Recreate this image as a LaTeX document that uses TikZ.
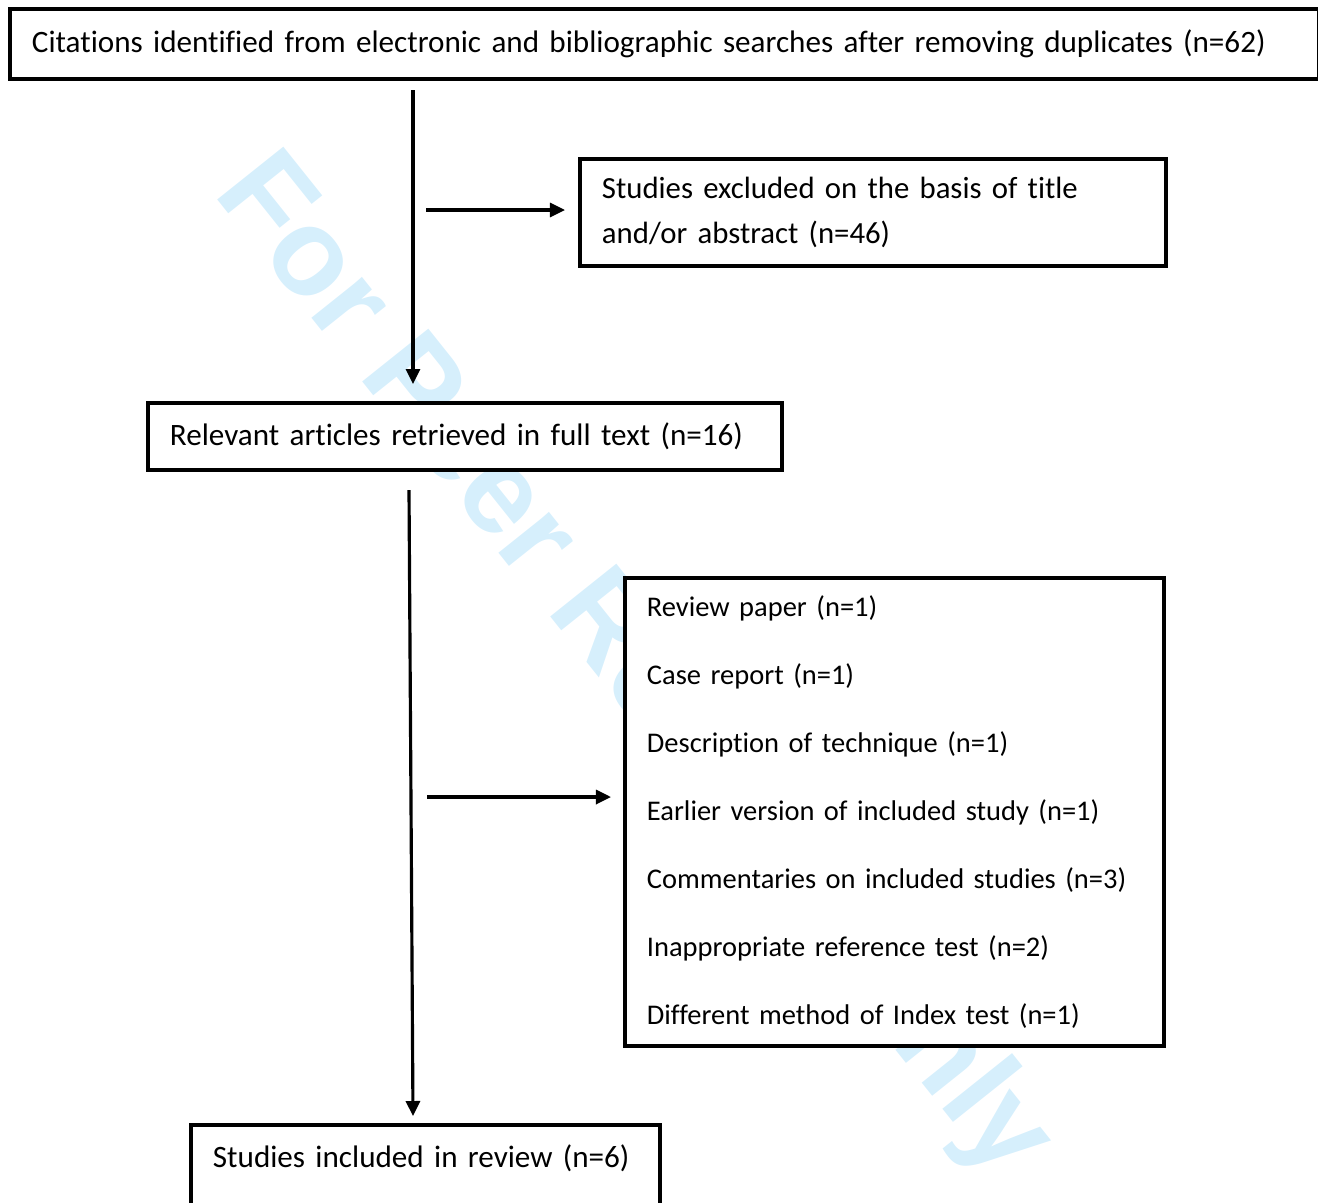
\documentclass[tikz,border=0pt]{standalone}
\usepackage{fontspec}
\setmainfont{Carlito}[Ligatures=NoCommon]
\newfontfamily\wmfont{Liberation Sans}
\usetikzlibrary{positioning, arrows.meta}
\definecolor{wmblue}{RGB}{214,239,252}

\begin{document}
\begin{tikzpicture}[x=0.01cm, y=-0.01cm,
boxnode/.style={rectangle, draw=black, line width=1.1pt, fill=white, anchor=north west, align=left, inner xsep=0.22cm, font=\fontsize{8.85}{12.8}\selectfont},
to/.style={-{Triangle[length=1.5mm, width=1.4mm]}, line width=0.9pt},
watermark/.style={text=wmblue, rotate=-51.4, anchor=base, font=\wmfont\bfseries\fontsize{35}{40}\selectfont},
]
\clip (0,0) rectangle (1318,1202);
%watermark
\node[watermark] (wm) at (607,688) {For Peer Review Only};
%nodes
\node[boxnode, text width=12.64cm, minimum height=0.70cm] (cit) at (8,7) {Citations identified from electronic and bibliographic searches after removing duplicates (n=62)};
\node[boxnode, text width=5.42cm, minimum height=1.07cm, font=\fontsize{8.75}{12.8}\selectfont] (excl1) at (578,157) {Studies excluded on the basis of title\\and/or abstract (n=46)};
\node[boxnode, text width=5.90cm, minimum height=0.67cm] (rel) at (146,401) {Relevant articles retrieved in full text (n=16)};
\node[boxnode, text width=4.95cm, minimum height=4.68cm, font=\fontsize{8.1}{19.3}\selectfont] (excl2) at (623,576) {Review paper (n=1)\\Case report (n=1)\\Description of technique (n=1)\\Earlier version of included study (n=1)\\Commentaries on included studies (n=3)\\Inappropriate reference test (n=2)\\Different method of Index test (n=1)};
\node[boxnode, text width=4.25cm, minimum height=1.07cm] (incl) at (189,1123) {Studies included in review (n=6)\\~};
%arrow ends
\coordinate (a1s) at (413,90);
\coordinate (a1e) at (413,384);
\coordinate (b1s) at (426,210);
\coordinate (b1e) at (565,210);
\coordinate (a2s) at (409,490);
\coordinate (a2e) at (413,1116);
\coordinate (b2s) at (427,797);
\coordinate (b2e) at (611,797);
%connections
\draw[to] (a1s) -- (a1e);
\draw[to] (b1s) -- (b1e);
\draw[to] (a2s) -- (a2e);
\draw[to] (b2s) -- (b2e);
\end{tikzpicture}
\end{document}
